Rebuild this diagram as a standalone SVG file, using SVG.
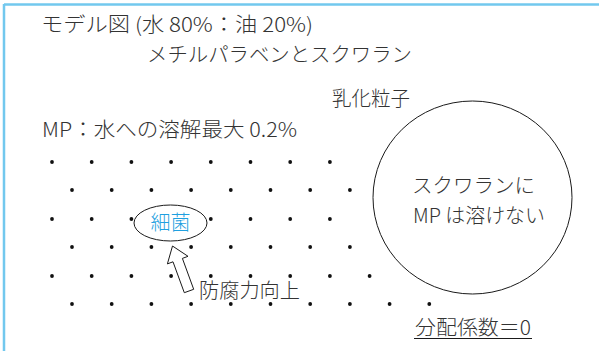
<svg xmlns="http://www.w3.org/2000/svg" xmlns:xlink="http://www.w3.org/1999/xlink" width="599" height="351" viewBox="0 0 599 351">
<style>
text{font-family:"Noto Sans CJK JP","Noto Sans",sans-serif;font-size:20px;font-weight:300;fill:#333}
.frame{stroke:#72c8ee;stroke-width:2.5;fill:none}
.shape{fill:#fff;stroke:#1a1a1a;stroke-width:1}
.dot{fill:#111}
</style>
<defs>
<circle id="d" r="1.9" class="dot"/>
</defs>
<rect width="599" height="351" fill="#fff"/>
<g id="frame">
<line class="frame" x1="4" y1="4.5" x2="599" y2="4.5"/>
<line class="frame" x1="4" y1="4" x2="4" y2="351"/>
</g>
<g id="titles">
<text x="41" y="32" textLength="272" lengthAdjust="spacingAndGlyphs">モデル図 (水 80%：油 20%)</text>
<text x="147" y="62" textLength="265" lengthAdjust="spacingAndGlyphs">メチルパラベンとスクワラン</text>
<text x="332" y="106" textLength="78" lengthAdjust="spacingAndGlyphs">乳化粒子</text>
<text x="42" y="137" textLength="255" lengthAdjust="spacingAndGlyphs">MP：水への溶解最大 0.2%</text>
</g>
<g id="dots">
<use href="#d" x="52" y="162"/><use href="#d" x="91.7" y="162"/><use href="#d" x="131.4" y="162"/><use href="#d" x="171.1" y="162"/><use href="#d" x="210.8" y="162"/><use href="#d" x="250.5" y="162"/><use href="#d" x="290.2" y="162"/><use href="#d" x="329.9" y="162"/>
<use href="#d" x="72" y="190"/><use href="#d" x="111.7" y="190"/><use href="#d" x="151.4" y="190"/><use href="#d" x="191.1" y="190"/><use href="#d" x="230.8" y="190"/><use href="#d" x="270.5" y="190"/><use href="#d" x="310.2" y="190"/><use href="#d" x="349.9" y="190"/>
<use href="#d" x="52" y="219"/><use href="#d" x="91.7" y="219"/><use href="#d" x="131.4" y="219"/><use href="#d" x="210.8" y="219"/><use href="#d" x="250.5" y="219"/><use href="#d" x="290.2" y="219"/><use href="#d" x="329.9" y="219"/>
<use href="#d" x="72" y="247"/><use href="#d" x="111.7" y="247"/><use href="#d" x="151.4" y="247"/><use href="#d" x="191.1" y="247"/><use href="#d" x="230.8" y="247"/><use href="#d" x="270.5" y="247"/><use href="#d" x="310.2" y="247"/><use href="#d" x="349.9" y="247"/>
<use href="#d" x="52" y="276"/><use href="#d" x="91.7" y="276"/><use href="#d" x="131.4" y="276"/><use href="#d" x="171.1" y="276"/><use href="#d" x="210.8" y="276"/><use href="#d" x="250.5" y="276"/><use href="#d" x="290.2" y="276"/><use href="#d" x="329.9" y="276"/><use href="#d" x="369.6" y="276"/>
<use href="#d" x="72" y="304"/><use href="#d" x="111.7" y="304"/><use href="#d" x="151.4" y="304"/><use href="#d" x="191.1" y="304"/><use href="#d" x="230.8" y="304"/><use href="#d" x="270.5" y="304"/><use href="#d" x="310.2" y="304"/><use href="#d" x="349.9" y="304"/><use href="#d" x="389.6" y="304"/><use href="#d" x="429.3" y="304"/>
</g>
<g id="particle">
<ellipse class="shape" cx="472.5" cy="197.5" rx="99.5" ry="96.5"/>
<text x="412" y="193" textLength="123" lengthAdjust="spacingAndGlyphs">スクワランに</text>
<text x="413" y="223" textLength="132" lengthAdjust="spacingAndGlyphs">MP は溶けない</text>
</g>
<g id="bacteria">
<ellipse class="shape" cx="170.5" cy="223" rx="36.5" ry="18"/>
<text x="170.5" y="230" text-anchor="middle" style="fill:#1fa0e0">細菌</text>
</g>
<g id="connectors">
<polygon class="shape" points="184.3,292.7 193.7,289.3 182.4,258.4 188.0,256.3 172.5,246 167.4,263.9 173.0,261.8"/>
</g>
<g id="label-preserve">
<text x="199" y="298" textLength="101" lengthAdjust="spacingAndGlyphs">防腐力向上</text>
</g>
<g id="partition">
<text x="415" y="335" textLength="116" lengthAdjust="spacingAndGlyphs">分配係数＝0</text>
<line x1="414" y1="338.5" x2="532" y2="338.5" stroke="#1a1a1a" stroke-width="1.2"/>
</g>
</svg>
